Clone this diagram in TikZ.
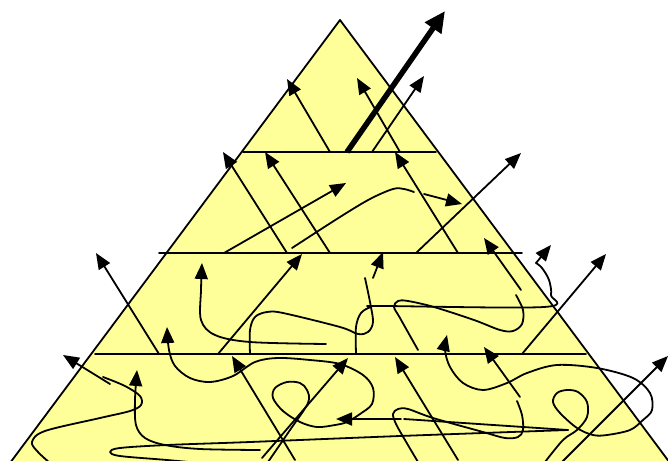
\documentclass[tikz,border=0pt]{standalone}
\usetikzlibrary{arrows.meta}
\definecolor{pyr}{HTML}{FFFF99}
\begin{document}
\begin{tikzpicture}[x=1pt,y=-1pt,
  ln/.style={line width=1.8pt, line join=round, line cap=round},
  arr/.style={ln, -{Triangle[length=16pt,width=13pt]}},
  bigarr/.style={line width=5.5pt, -{Triangle[length=21pt,width=19pt]}},
  sm/.style={smooth, tension=0.55}]
\useasboundingbox (0,0) rectangle (668,460);
\clip (0,0) rectangle (668,460);
\coordinate (apex) at (340,20);
\coordinate (bl) at (10,463);
\coordinate (br) at (670,463);
\fill[pyr] (apex) -- (bl) -- (br) -- cycle;
\draw[ln] (apex) -- (bl) -- (br) -- cycle;
% level lines
\draw[ln] (243,152) -- (436,152);
\draw[ln] (159,253) -- (522,253);
\draw[ln] (95,354) -- (586,354);
% top level
\draw[bigarr] (347,152) -- (445,11);
\draw[arr] (372,152) -- (424,76);
\draw[arr] (400,152) -- (357,78);
\draw[arr] (330,152) -- (287,79);
% upper band
\draw[arr] (287,253) -- (223,152);
\draw[arr] (330,253) -- (265,152);
\draw[arr] (224,253) -- (346,183);
\draw[arr] (458,253) -- (395,152);
\draw[arr] (416,253) -- (521,153);
\draw[ln] plot[sm] coordinates {(292,248) (340,217) (370,199) (393,189) (404,189) (414,192)};
\draw[arr] (424,194) -- (462,204);
% middle band
\draw[arr] (159,354) -- (96,253);
\draw[arr] (218,354) -- (302,254);
\draw[arr] plot[sm] coordinates {(326,344) (250,342) (215,335) (201,320) (201,290) (202,263)};
\draw[ln] plot[sm] coordinates {(250,354) (250,330) (255,317) (267,312) (283,313) (340,327) (358,334) (368,332) (373,322) (370,302) (365,278)};
\draw[arr] (373,278) -- (383,252);
\draw[ln] plot[sm] coordinates {(356,353) (356,327) (361,313) (371,307) (381,306) (544,307) (551,295) (549,280) (542,268) (536,263)};
\draw[arr] (536,263) -- (551,245);
\draw[ln] plot[sm] coordinates {(418,350) (400,318) (394,307) (398,301) (408,301) (434,307) (474,320) (500,330) (513,331) (522,324) (523,310) (516,295)};
\draw[arr] (521,290) -- (484,238);
\draw[arr] (522,354) -- (606,254);
% bottom band
\draw[arr] (110,384) -- (63,355);
\draw[ln] plot[sm] coordinates {(103,377) (125,386) (140,396) (141,405) (130,411) (100,418) (45,431) (32,442) (38,452) (50,463)};
\draw[arr] plot[sm] coordinates {(260,450) (200,449) (165,445) (145,438) (136,425) (135,400) (137,370)};
\draw[arr] plot[sm] coordinates {(268,462) (290,430) (308,403) (307,390) (300,383) (287,382) (275,388) (273,398) (283,411) (300,422) (317,427) (335,425) (347,422) (360,414) (372,404) (373,388) (363,375) (340,364) (310,360) (278,358) (255,362) (233,376) (210,382) (190,378) (175,366) (169,350) (167,327)};
\draw[arr] (262,458) -- (348,358);
\draw[arr] (295,460) -- (232,356);
\draw[arr] (458,460) -- (395,357);
\draw[arr] (401,419) -- (336,419);
\draw[ln] (404,419) -- (568,430);
\draw[ln] plot[sm] coordinates {(568,430) (400,436) (250,442) (167,445) (120,448) (110,452) (120,456) (167,460) (210,464)};
\draw[ln] plot[sm] coordinates {(418,462) (405,440) (396,424) (393,414) (398,409) (408,409) (433,418) (483,432) (505,438) (518,437) (523,430) (522,415) (517,401)};
\draw[arr] (520,397) -- (484,347);
\draw[arr] plot[sm] coordinates {(545,462) (563,440) (577,430) (587,417) (587,402) (578,392) (567,390) (557,393) (553,402) (560,413) (577,428) (593,435) (607,435) (630,430) (643,420) (652,410) (650,393) (633,378) (597,368) (557,365) (527,373) (507,383) (483,390) (463,383) (450,367) (445,350) (447,335)};
\draw[arr] (562,462) -- (668,356);
\end{tikzpicture}
\end{document}
